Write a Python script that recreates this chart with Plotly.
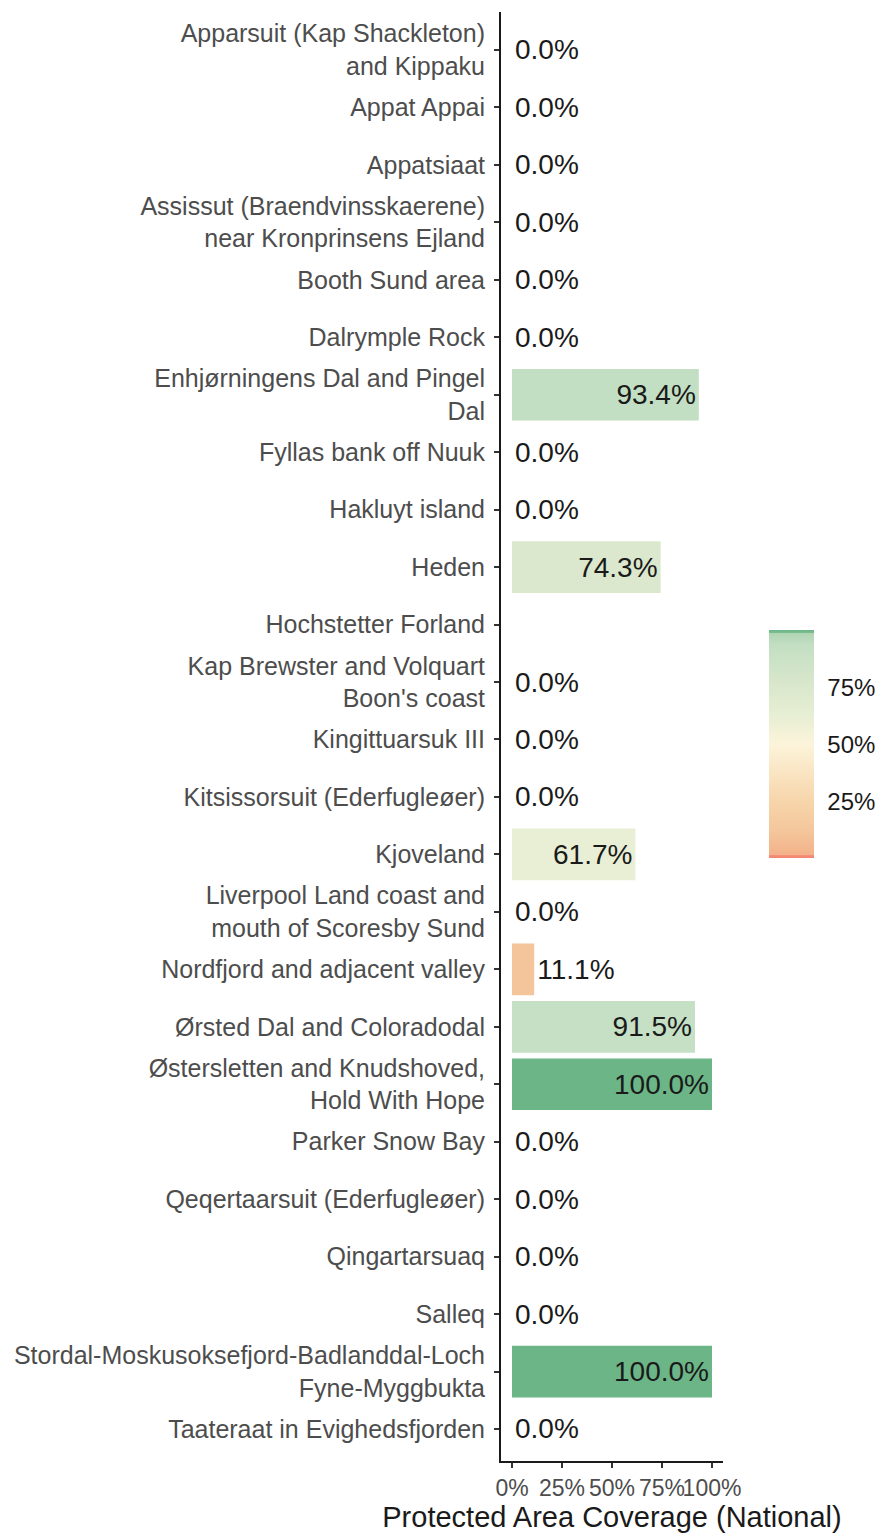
import plotly.graph_objects as go

categories = [
    "Apparsuit (Kap Shackleton)<br>and Kippaku",
    "Appat Appai",
    "Appatsiaat",
    "Assissut (Braendvinsskaerene)<br>near Kronprinsens Ejland",
    "Booth Sund area",
    "Dalrymple Rock",
    "Enhjørningens Dal and Pingel<br>Dal",
    "Fyllas bank off Nuuk",
    "Hakluyt island",
    "Heden",
    "Hochstetter Forland",
    "Kap Brewster and Volquart<br>Boon's coast",
    "Kingittuarsuk III",
    "Kitsissorsuit (Ederfugleøer)",
    "Kjoveland",
    "Liverpool Land coast and<br>mouth of Scoresby Sund",
    "Nordfjord and adjacent valley",
    "Ørsted Dal and Coloradodal",
    "Østersletten and Knudshoved,<br>Hold With Hope",
    "Parker Snow Bay",
    "Qeqertaarsuit (Ederfugleøer)",
    "Qingartarsuaq",
    "Salleq",
    "Stordal-Moskusoksefjord-Badlanddal-Loch<br>Fyne-Myggbukta",
    "Taateraat in Evighedsfjorden",
]
coverage = [0, 0, 0, 0, 0, 0, 93.4, 0, 0, 74.3, None, 0, 0, 0, 61.7, 0, 11.1,
            91.5, 100, 0, 0, 0, 0, 100, 0]
x_ticks = [0, 25, 50, 75, 100]
x_tick_labels = ["0%", "25%", "50%", "75%", "100%"]
cb_ticks = [25, 50, 75]
cb_tick_labels = ["25%", "50%", "75%"]

colorscale = [
    [0.0, "#f4836e"],
    [0.012, "#f5907a"],
    [0.013, "#f3b189"],
    [0.111, "#f4c59a"],
    [0.25, "#f7d5ab"],
    [0.5, "#fcf4da"],
    [0.617, "#e8efd4"],
    [0.743, "#dbe8cd"],
    [0.934, "#c3dfc3"],
    [0.985, "#b0d5b3"],
    [0.986, "#7dbf91"],
    [1.0, "#6cb587"],
]

texts = ["" if v is None else f"{v:.1f}%" for v in coverage]
positions = ["outside" if (v is None or v < 40) else "inside" for v in coverage]
colvals = [v if v is not None else 0 for v in coverage]

# page body has an 8px margin; figure coordinates = screen - 8
FIG_W, FIG_H = 875, 1528
PLOT_L, PLOT_R = 493, 715
PLOT_TOP, PLOT_BOTTOM = 4, 1453
plot_h = PLOT_BOTTOM - PLOT_TOP
plot_w = PLOT_R - PLOT_L

fig = go.Figure()
fig.add_trace(go.Bar(
    y=categories, x=coverage, orientation="h",
    width=0.9,
    marker=dict(color=colvals, colorscale=colorscale, cmin=0, cmax=100,
                line=dict(width=0),
                colorbar=dict(
                    title=dict(text=""),
                    tickvals=cb_ticks, ticktext=cb_tick_labels,
                    ticks="outside", ticklen=9, tickcolor="rgba(255,255,255,0)", tickwidth=1,
                    tickfont=dict(family="Liberation Sans, Arial", size=24, color="#1a1a1a"),
                    thickness=45, thicknessmode="pixels",
                    len=228, lenmode="pixels",
                    x=(761 - PLOT_L) / plot_w, xanchor="left", xpad=0,
                    y=(PLOT_BOTTOM - 736.5) / plot_h, yanchor="middle", ypad=0,
                    outlinewidth=0,
                )),
    text=texts, textposition=positions,
    insidetextanchor="end",
    textfont=dict(family="Liberation Sans, Arial", size=28, color="#1a1a1a"),
    constraintext="none", cliponaxis=False,
    hoverinfo="skip",
))

fig.update_layout(
    width=FIG_W, height=FIG_H,
    margin=dict(l=PLOT_L, r=FIG_W - PLOT_R, t=PLOT_TOP, b=FIG_H - PLOT_BOTTOM,
                autoexpand=False),
    plot_bgcolor="white", paper_bgcolor="white",
    font=dict(family="Liberation Sans, Arial"),
    showlegend=False,
    xaxis=dict(
        range=[-5.5, 105.5], tickvals=x_ticks, ticktext=x_tick_labels,
        tickangle=0, automargin=False,
        showgrid=False, zeroline=False,
        showline=True, linecolor="#1a1a1a", linewidth=2,
        ticks="outside", ticklen=5, tickwidth=1.5, tickcolor="#333333",
        tickfont=dict(size=23, color="#4d4d4d"),
        title=dict(text="Protected Area Coverage (National)",
                   font=dict(size=29, color="#1a1a1a"), standoff=5),
    ),
    yaxis=dict(
        type="category", categoryorder="array", categoryarray=categories,
        range=[24.557, -0.661], automargin=False,
        showgrid=False, zeroline=False,
        showline=True, linecolor="#1a1a1a", linewidth=2,
        ticks="outside", ticklen=5, tickwidth=1.5, tickcolor="#333333",
        tickfont=dict(size=25, color="#4d4d4d"),
        ticklabelstandoff=4,
    ),
)

fig.write_html("out.html")
